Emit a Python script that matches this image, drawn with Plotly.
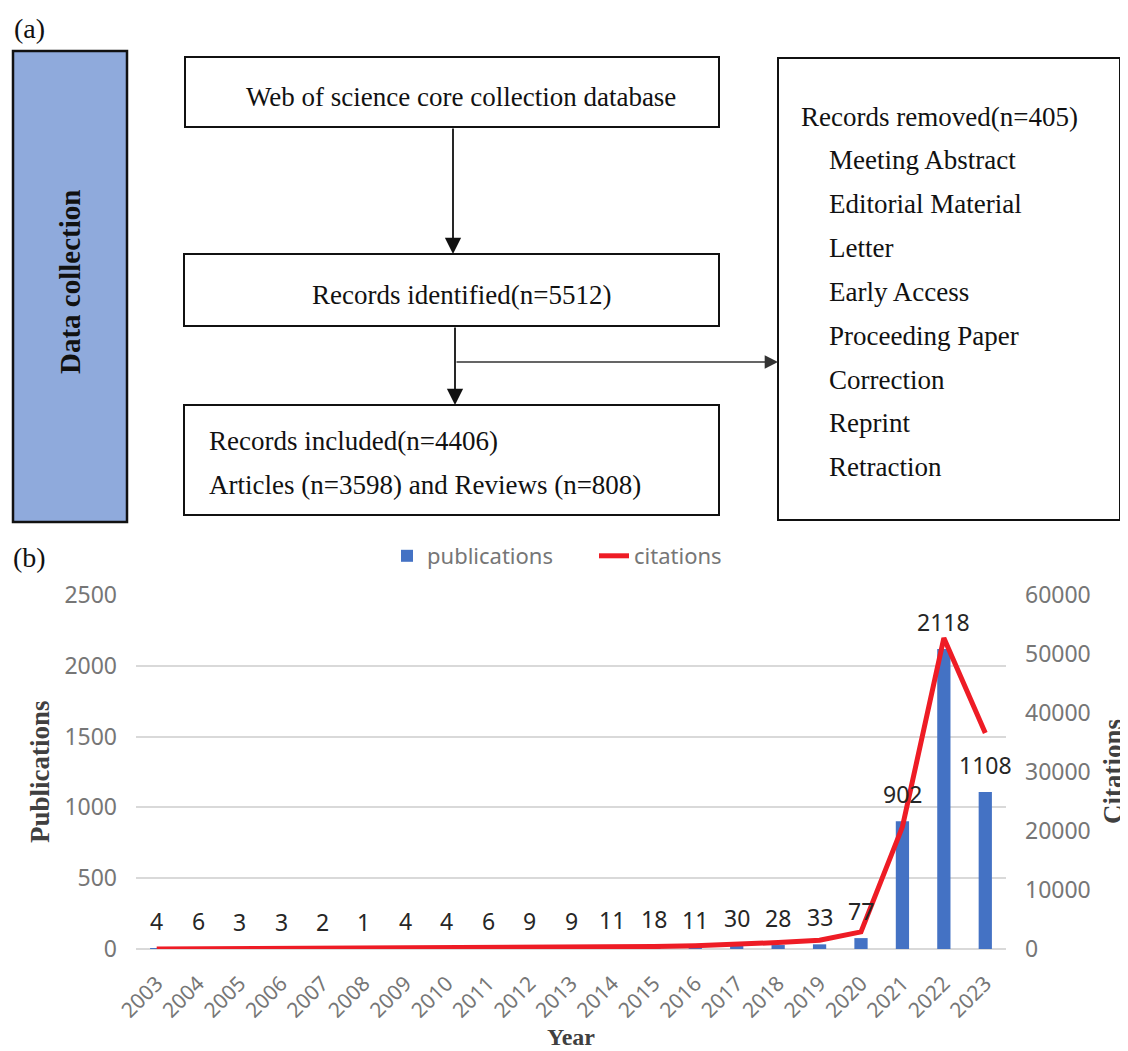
import plotly.graph_objects as go

# target picture size and the page's default body margin
W, H = 1128, 1051
OFF = 8
FW, FH = W - OFF, H - OFF

# ---------------- data ----------------
years = list(range(2003, 2024))
publications = [4, 6, 3, 3, 2, 1, 4, 4, 6, 9, 9, 11, 18, 11, 30, 28, 33, 77, 902, 2118, 1108]
citations = [5, 30, 60, 80, 100, 110, 120, 150, 180, 230, 280, 330, 420, 550, 750, 1100, 1500, 2900, 20700, 52700, 36600]
pub_ticks = [0, 500, 1000, 1500, 2000, 2500]
cit_ticks = [0, 10000, 20000, 30000, 40000, 50000, 60000]

flow_top = "Web of science core collection database"
flow_identified = "Records identified(n=5512)"
flow_included = ["Records included(n=4406)", "Articles (n=3598) and Reviews (n=808)"]
flow_removed_title = "Records removed(n=405)"
flow_removed_items = ["Meeting Abstract", "Editorial Material", "Letter", "Early Access",
                      "Proceeding Paper", "Correction", "Reprint", "Retraction"]


def px(x):
    return (x - OFF) / FW


def py(y):
    return 1 - (y - OFF) / FH


SERIF = "Liberation Serif, Times New Roman, serif"
SANS = "Noto Sans, Arial, sans-serif"
TICK_COLOR = "#767676"

fig = go.Figure()
fig.add_trace(go.Bar(
    x=years, y=publications, name="publications",
    marker=dict(color="#4472C4", line=dict(width=0)),
    width=0.32, yaxis="y",
))
fig.add_trace(go.Scatter(
    x=years, y=citations, name="citations", mode="lines",
    line=dict(color="#EE1C25", width=5), yaxis="y2",
))

shapes = []
annotations = []


def box(x0, y0, x1, y1, fill="rgba(0,0,0,0)", lw=2):
    shapes.append(dict(type="rect", xref="paper", yref="paper",
                       x0=px(x0), x1=px(x1), y0=py(y1), y1=py(y0),
                       line=dict(color="#111111", width=lw), fillcolor=fill, layer="above"))


def text(x, y, s, size=27, xanchor="center", angle=0, bold=False, color="#111111", family=SERIF):
    annotations.append(dict(xref="paper", yref="paper", x=px(x), y=py(y),
                            text=("<b>%s</b>" % s) if bold else s, showarrow=False,
                            xanchor=xanchor, yanchor="middle", textangle=angle,
                            font=dict(family=family, size=size, color=color)))


def arrow(x0, y0, x1, y1, lw=1.8, color="#111111", size=1.8):
    annotations.append(dict(xref="paper", yref="paper", x=px(x1), y=py(y1),
                            ax=x0 - x1, ay=y0 - y1, axref="pixel", ayref="pixel",
                            showarrow=True, arrowhead=2, arrowsize=size, arrowwidth=lw,
                            arrowcolor=color, text=""))


# ---------------- (a) flowchart ----------------
text(29, 29, "(a)", size=28)
box(13, 51, 127, 522, fill="#8FAADC", lw=2.5)
text(70, 282, "Data collection", size=29, angle=-90, bold=True)

box(185, 57, 719, 127)
text(461, 97, flow_top)
arrow(453, 127, 453, 254)

box(184, 254, 719, 326)
text(461, 295, flow_identified)
arrow(455, 326, 455, 405)
arrow(455, 362, 778, 362, lw=1.4, color="#333333", size=1.9)

box(184, 405, 719, 515)
text(207, 441, flow_included[0], xanchor="left")
text(207, 485, flow_included[1], xanchor="left")

box(778, 58, 1120, 520)
text(799, 117, flow_removed_title, xanchor="left")
for i, item in enumerate(flow_removed_items):
    text(827, 160 + i * 43.9, item, xanchor="left")

# ---------------- (b) chart ----------------
text(29, 557, "(b)", size=28)
text(40, 772, "Publications", size=27, angle=-90, bold=True, color="#404040")
text(1113, 772, "Citations", size=27, angle=-90, bold=True, color="#404040")
text(571, 1037, "Year", size=24, bold=True, color="#404040")

for yr, v in zip(years, publications):
    annotations.append(dict(xref="x", yref="y", x=yr, y=v, text=str(v), showarrow=False,
                            yanchor="middle", yshift=27,
                            font=dict(family=SANS, size=23, color="#262626")))

fig.update_layout(
    width=FW, height=FH,
    margin=dict(l=0, r=0, t=0, b=0, pad=0, autoexpand=False),
    paper_bgcolor="white", plot_bgcolor="white",
    font=dict(family=SANS, size=22, color=TICK_COLOR),
    showlegend=True,
    legend=dict(orientation="h", x=px(594), y=py(556), xanchor="center", yanchor="middle",
                font=dict(family=SANS, size=22, color=TICK_COLOR),
                entrywidth=162, entrywidthmode="pixels",
                bgcolor="rgba(0,0,0,0)", traceorder="normal"),
    xaxis=dict(domain=[px(136), px(1006)], type="linear", range=[2002.5, 2023.5],
               tickmode="array", tickvals=years, ticktext=[str(y) for y in years],
               tickangle=-45, showgrid=False, showline=False, zeroline=False,
               ticks="", ticklabelstandoff=17,
               tickfont=dict(family=SANS, size=21, color=TICK_COLOR)),
    yaxis=dict(domain=[py(949), py(595)], range=[0, 2500], tickvals=pub_ticks,
               showgrid=True, gridcolor="#D9D9D9", gridwidth=1.5,
               zeroline=True, zerolinecolor="#D9D9D9", zerolinewidth=1.5,
               showline=False, ticks="", ticklabelstandoff=18,
               tickfont=dict(family=SANS, size=23, color=TICK_COLOR)),
    yaxis2=dict(domain=[py(949), py(595)], range=[0, 60000], tickvals=cit_ticks,
                ticktext=[str(t) for t in cit_ticks],
                overlaying="y", side="right", anchor="x",
                showgrid=False, zeroline=False, showline=False, ticks="",
                ticklabelstandoff=18,
                tickfont=dict(family=SANS, size=23, color=TICK_COLOR)),
    shapes=shapes,
    annotations=annotations,
)

fig.write_html("out.html")
